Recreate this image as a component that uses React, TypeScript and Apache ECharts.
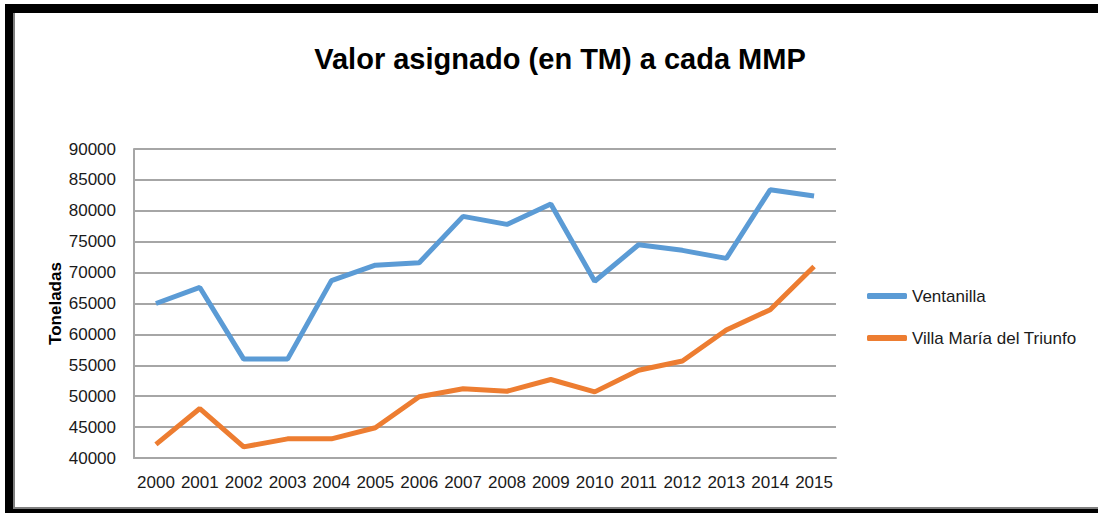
import React, { useEffect, useRef } from "react";
import * as echarts from "echarts";

const years = ["2000","2001","2002","2003","2004","2005","2006","2007","2008","2009","2010","2011","2012","2013","2014","2015"];
const ventanilla = [65000, 67600, 56000, 56000, 68700, 71200, 71600, 79100, 77800, 81100, 68600, 74500, 73600, 72300, 83400, 82400];
const villaMaria = [42200, 48000, 41800, 43100, 43100, 44900, 49900, 51200, 50800, 52700, 50700, 54200, 55700, 60700, 64000, 71000];
const seriesNames = ["Ventanilla", "Villa María del Triunfo"];
const seriesColors = ["#5B9BD5", "#ED7D31"];

export default function App() {
  const ref = useRef<HTMLDivElement>(null);
  useEffect(() => {
    document.body.style.margin = "0";
    const chart = echarts.init(ref.current!, null, { renderer: "svg" });
    const font = "'Liberation Sans', Arial, sans-serif";
    chart.setOption({
      animation: false,
      backgroundColor: "#ffffff",
      title: {
        text: "Valor asignado (en TM) a cada MMP",
        left: 555,
        textAlign: "center",
        top: 39,
        textStyle: { fontFamily: font, fontSize: 29, fontWeight: "bold", color: "#000000" },
      },
      grid: { left: 134, right: 262, top: 149, bottom: 55, containLabel: false },
      legend: {
        orient: "vertical",
        left: 862,
        top: 281,
        itemWidth: 40,
        itemHeight: 6,
        itemGap: 22,
        icon: "roundRect",
        textStyle: { fontFamily: font, fontSize: 17, color: "#1a1a1a", lineHeight: 20 },
        data: seriesNames,
      },
      xAxis: {
        type: "category",
        data: years,
        boundaryGap: true,
        axisLine: { show: true, lineStyle: { color: "#a6a6a6", width: 2 } },
        axisTick: { show: false },
        axisLabel: { fontFamily: font, fontSize: 17, color: "#1a1a1a", margin: 16, interval: 0 },
      },
      yAxis: {
        type: "value",
        min: 40000,
        max: 90000,
        interval: 5000,
        name: "Toneladas",
        nameLocation: "middle",
        nameRotate: 90,
        nameGap: 70,
        nameMoveOverlap: false,
        nameTextStyle: { fontFamily: font, fontSize: 17, fontWeight: "bold", color: "#000000" },
        axisLine: { show: true, lineStyle: { color: "#a6a6a6", width: 2 } },
        axisTick: { show: false },
        axisLabel: { fontFamily: font, fontSize: 17, color: "#1a1a1a", margin: 18, formatter: (v: number) => String(v) },
        splitLine: { show: true, lineStyle: { color: "#a6a6a6", width: 2 } },
      },
      series: [
        {
          name: seriesNames[0],
          type: "line",
          data: ventanilla,
          symbol: "none",
          color: seriesColors[0],
          lineStyle: { width: 5, color: seriesColors[0] },
        },
        {
          name: seriesNames[1],
          type: "line",
          data: villaMaria,
          symbol: "none",
          color: seriesColors[1],
          lineStyle: { width: 5, color: seriesColors[1] },
        },
      ],
      graphic: [
        { type: "rect", shape: { x: 5, y: 4, width: 1093, height: 9 }, style: { fill: "#000000" }, silent: true },
        { type: "rect", shape: { x: 5, y: 4, width: 8, height: 509 }, style: { fill: "#000000" }, silent: true },
        { type: "rect", shape: { x: 5, y: 509, width: 1093, height: 4 }, style: { fill: "#000000" }, silent: true },
        { type: "rect", shape: { x: 13, y: 13, width: 2, height: 495 }, style: { fill: "#7f7f7f" }, silent: true },
        { type: "rect", shape: { x: 13, y: 507, width: 1085, height: 2 }, style: { fill: "#7f7f7f" }, silent: true },
      ],
    });
    return () => chart.dispose();
  }, []);
  return <div ref={ref} style={{ position: "absolute", left: 0, top: 0, width: 1098, height: 513 }} />;
}
